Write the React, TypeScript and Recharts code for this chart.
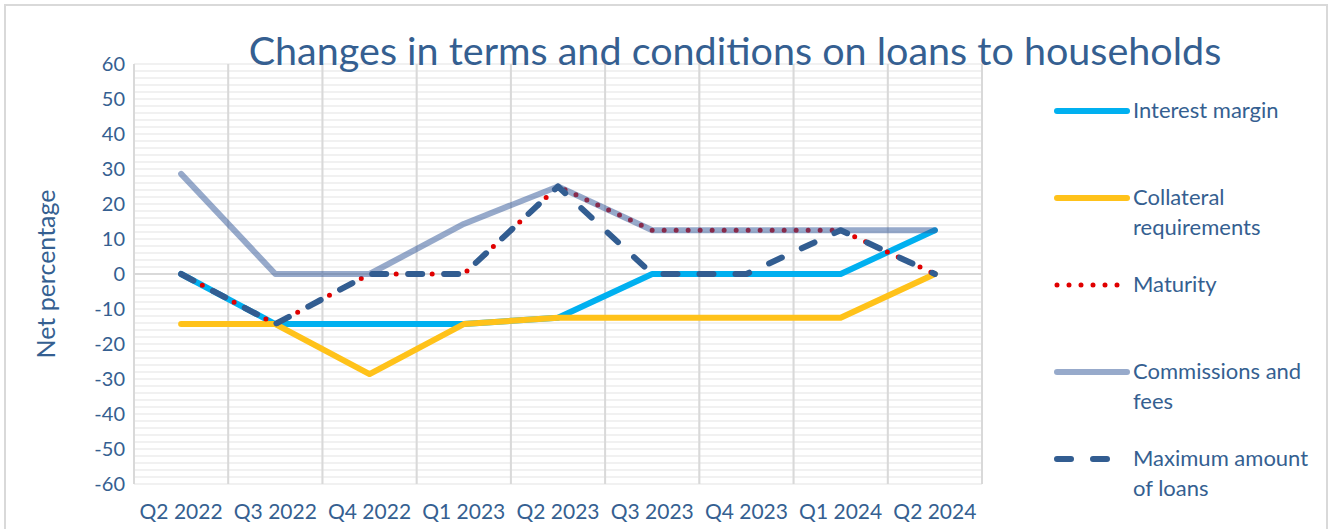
import { CartesianGrid, Legend, Line, LineChart, ReferenceLine, XAxis, YAxis } from "recharts";

const quarters = ["Q2 2022", "Q3 2022", "Q4 2022", "Q1 2023", "Q2 2023", "Q3 2023", "Q4 2023", "Q1 2024", "Q2 2024"];
const interestMargin = [0, -14.3, -14.3, -14.3, -12.5, 0, 0, 0, 12.5];
const collateral = [-14.3, -14.3, -28.6, -14.3, -12.5, -12.5, -12.5, -12.5, 0];
const maturity = [0, -14.3, 0, 0, 25, 12.5, 12.5, 12.5, 0];
const commissions = [28.6, 0, 0, 14.3, 25, 12.5, 12.5, 12.5, 12.5];
const maxAmount = [0, -14.3, 0, 0, 25, 0, 0, 12.5, 0];

const yTicks = [-60, -50, -40, -30, -20, -10, 0, 10, 20, 30, 40, 50, 60];
// light minor gridlines every 2 points
const minorGrid = Array.from({ length: 61 }, (_, i) => -60 + i * 2);

const data = quarters.map((q, i) => ({
  quarter: q,
  interestMargin: interestMargin[i],
  collateral: collateral[i],
  maturity: maturity[i],
  commissions: commissions[i],
  maxAmount: maxAmount[i],
}));

const TEXT = "#355F91";
const FONT = "Lato, sans-serif";

const PLOT_WIDTH = 848;
const HALF_CAT = PLOT_WIDTH / quarters.length / 2;

type SeriesStyle = {
  key: string;
  lines: string[];
  color: string;
  width: number;
  dash?: string;
  opacity?: number;
};

const seriesStyles: SeriesStyle[] = [
  { key: "interestMargin", lines: ["Interest margin"], color: "#00B0F0", width: 6 },
  { key: "collateral", lines: ["Collateral", "requirements"], color: "#FFC21A", width: 6 },
  { key: "maturity", lines: ["Maturity"], color: "#E00000", width: 5, dash: "0 12" },
  { key: "commissions", lines: ["Commissions and", "fees"], color: "#2F5597", width: 6, opacity: 0.5 },
  { key: "maxAmount", lines: ["Maximum amount", "of loans"], color: "#325D91", width: 6, dash: "14 22" },
];

// boundaries between categories (Excel draws vertical gridlines there)
const boundaryLines = ({ offset }: any) =>
  Array.from({ length: quarters.length + 1 }, (_, i) => offset.left + (offset.width * i) / quarters.length);

function LegendSwatch({ s }: { s: SeriesStyle }) {
  return (
    <svg width={80} height={10} style={{ flex: "none", marginTop: 11 }}>
      <line
        x1={4}
        x2={74}
        y1={5}
        y2={5}
        stroke={s.color}
        strokeWidth={s.width}
        strokeOpacity={s.opacity ?? 1}
        strokeDasharray={s.dash}
        strokeLinecap="round"
      />
    </svg>
  );
}

function ChartLegend() {
  return (
    <div style={{ fontFamily: FONT, fontSize: 22, color: TEXT, lineHeight: "30px", textAlign: "left" }}>
      {seriesStyles.map((s) => (
        <div key={s.key} style={{ display: "flex", alignItems: "flex-start", height: 87 }}>
          <LegendSwatch s={s} />
          <div>
            {s.lines.map((l) => (
              <div key={l}>{l}</div>
            ))}
          </div>
        </div>
      ))}
    </div>
  );
}

export default function App() {
  return (
    <div
      style={{
        position: "absolute",
        left: 0,
        top: 0,
        width: 1331,
        height: 529,
        overflow: "hidden",
        background: "#fff",
        fontFamily: FONT,
      }}
    >
      <div
        style={{
          position: "absolute",
          left: 4,
          top: 4,
          width: 1320,
          height: 580,
          border: "2px solid #D9D9D9",
        }}
      />
      <div
        style={{
          position: "absolute",
          left: 45,
          top: 274,
          transform: "translate(-50%, -50%) rotate(-90deg)",
          whiteSpace: "nowrap",
          fontSize: 25,
          color: TEXT,
        }}
      >
        Net percentage
      </div>
      <div style={{ position: "absolute", left: 0, top: 0 }}>
        <LineChart width={1331} height={529} data={data} margin={{ top: 64, right: 1331 - 134 - PLOT_WIDTH, bottom: 0, left: 0 }}>
          <CartesianGrid stroke="#EDEDED" strokeWidth={1.5} horizontalValues={minorGrid} verticalCoordinatesGenerator={boundaryLines} />
          <CartesianGrid stroke="#D9D9D9" strokeWidth={2} horizontal={false} verticalCoordinatesGenerator={boundaryLines} />
          <XAxis
            dataKey="quarter"
            axisLine={false}
            tickLine={false}
            tickSize={0}
            tickMargin={20}
            height={45}
            interval={0}
            padding={{ left: HALF_CAT, right: HALF_CAT }}
            tick={{ fill: TEXT, fontSize: 21, fontFamily: FONT }}
          />
          <YAxis
            domain={[-60, 60]}
            ticks={yTicks}
            axisLine={false}
            tickLine={false}
            tickSize={0}
            tickMargin={9}
            width={134}
            interval={0}
            tick={{ fill: TEXT, fontSize: 20, fontFamily: FONT }}
          />
          <ReferenceLine y={0} stroke="#D9D9D9" strokeWidth={2} />
          {seriesStyles.map((s) => (
            <Line
              key={s.key}
              type="linear"
              dataKey={s.key}
              name={s.lines.join(" ")}
              stroke={s.color}
              strokeWidth={s.width}
              strokeOpacity={s.opacity ?? 1}
              strokeDasharray={s.dash}
              strokeLinecap="round"
              strokeLinejoin="round"
              dot={false}
              activeDot={false}
              isAnimationActive={false}
            />
          ))}
          <Legend
            layout="vertical"
            verticalAlign="middle"
            align="center"
            wrapperStyle={{ top: 95, left: 1053, width: 275 }}
            content={() => <ChartLegend />}
          />
        </LineChart>
      </div>
      <div
        style={{
          position: "absolute",
          left: 735,
          top: 30,
          transform: "translateX(-50%)",
          whiteSpace: "nowrap",
          fontSize: 39.5,
          lineHeight: 1,
          color: TEXT,
        }}
      >
        Changes in terms and conditions on loans to households
      </div>
    </div>
  );
}
